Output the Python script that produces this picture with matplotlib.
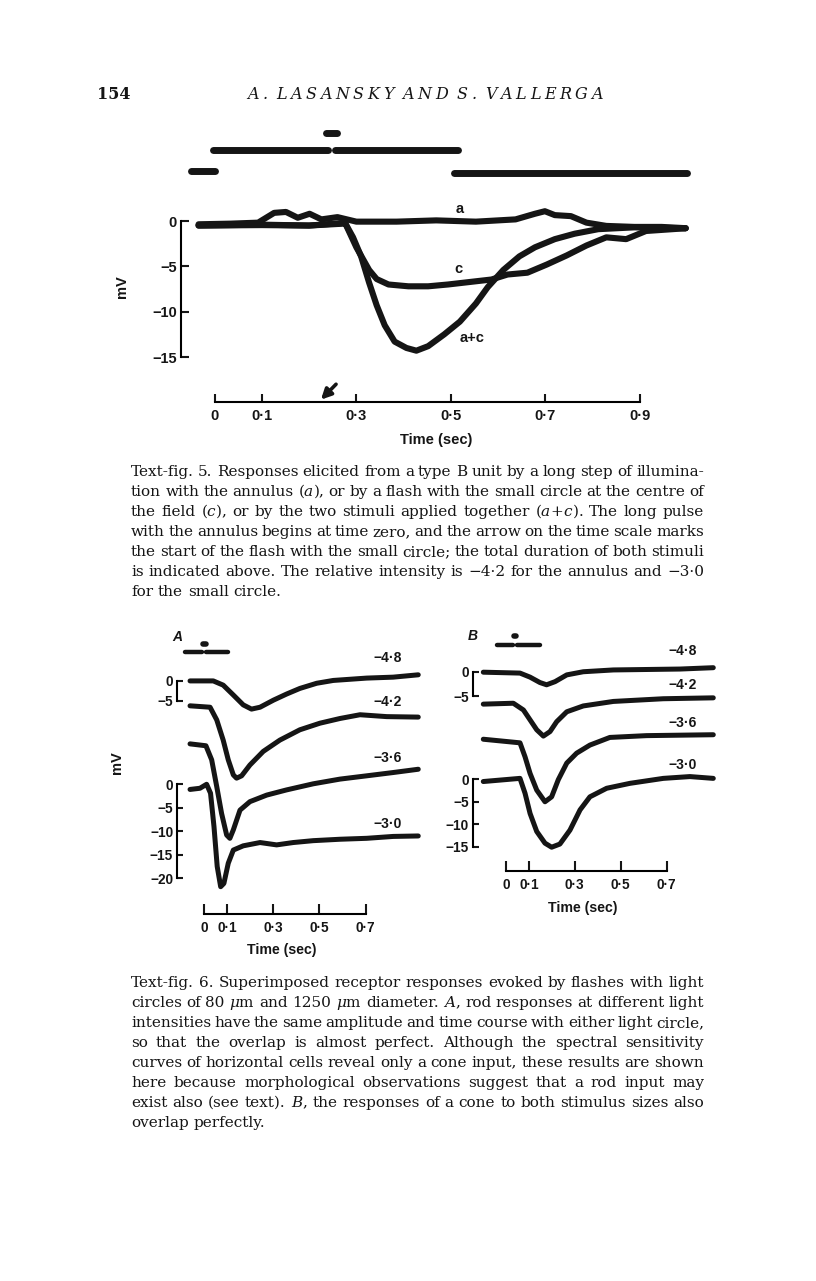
import matplotlib
matplotlib.use("Agg")
import matplotlib.pyplot as plt

W, H, DPI = 816, 1281, 100
INK = "#151515"
SANS = "Liberation Sans"
SERIF = "DejaVu Serif"
plt.rcParams["mathtext.fontset"] = "dejavuserif"

# Text-fig. 5 -- type B unit: annulus (a), small circle (c), both together (a+c)
FIG5_TIME_A = [-0.034, 0.034, 0.092, 0.126, 0.151, 0.176, 0.201, 0.226, 0.26, 0.30, 0.385,
               0.469, 0.553, 0.637, 0.678, 0.699, 0.72, 0.754, 0.787, 0.829, 0.888, 0.946, 0.997]
FIG5_MV_A = [-0.36, -0.29, -0.18, 0.9, 1.0, 0.36, 0.8, 0.18, 0.43, -0.07, -0.07,
             0.07, -0.07, 0.18, 0.8, 1.08, 0.65, 0.54, -0.18, -0.54, -0.65, -0.65, -0.79]
FIG5_TIME_C = [-0.034, 0.1, 0.2, 0.27, 0.276, 0.30, 0.327, 0.343, 0.368, 0.41, 0.452, 0.494,
               0.544, 0.586, 0.62, 0.662, 0.703, 0.745, 0.787, 0.829, 0.871, 0.913, 0.997]
FIG5_MV_C = [-0.5, -0.4, -0.5, -0.3, -0.2, -2.9, -5.4, -6.4, -7.0, -7.2, -7.2, -7.0,
             -6.7, -6.45, -5.9, -5.7, -4.8, -3.8, -2.7, -1.8, -2.0, -1.1, -0.8]
FIG5_TIME_AC = [-0.034, 0.1, 0.2, 0.276, 0.293, 0.31, 0.327, 0.343, 0.36, 0.381, 0.406, 0.427,
                0.452, 0.486, 0.519, 0.553, 0.578, 0.611, 0.645, 0.678, 0.72, 0.762, 0.812, 0.888, 0.997]
FIG5_MV_AC = [-0.5, -0.45, -0.5, -0.2, -1.8, -3.9, -6.8, -9.3, -11.5, -13.3, -14.0, -14.3,
              -13.8, -12.5, -11.1, -9.1, -7.3, -5.4, -3.9, -2.9, -2.0, -1.4, -0.9, -0.7, -0.8]
FIG5_STIM_START = [-0.049, -0.004, 0.255, 0.507]
FIG5_STIM_END = [0.0, 0.239, 0.515, 1.0]
FIG5_STIM_LEVEL = [5.55, 7.83, 7.83, 5.26]
FIG5_FLASH_MARK = [0.236, 0.258]
FIG5_FLASH_LEVEL = 9.74
FIG5_FLASH_START = 0.225
FIG5_TIME_TICKS = [0, 0.1, 0.3, 0.5, 0.7, 0.9]
FIG5_TIME_LABELS = ["0", "0·1", "0·3", "0·5", "0·7", "0·9"]
FIG5_MV_TICKS = [0, -5, -10, -15]
FIG5_MV_LABELS = ["0", "−5", "−10", "−15"]

# Text-fig. 6 -- four relative intensities per panel, traces offset vertically (mV)
INTENSITIES = ["−4·8", "−4·2", "−3·6", "−3·0"]
ROD_TIME = [
    [-0.062, 0.039, 0.082, 0.126, 0.169, 0.205, 0.242, 0.30, 0.357, 0.415, 0.488, 0.56, 0.705, 0.82, 0.929],
    [-0.062, 0.025, 0.054, 0.082, 0.104, 0.126, 0.14, 0.162, 0.198, 0.256, 0.328, 0.415, 0.502, 0.589,
     0.676, 0.792, 0.929],
    [-0.062, 0.007, 0.032, 0.054, 0.075, 0.097, 0.111, 0.126, 0.155, 0.198, 0.271, 0.357, 0.473, 0.589,
     0.705, 0.82, 0.929],
    [-0.062, -0.019, 0.010, 0.027, 0.042, 0.056, 0.071, 0.085, 0.104, 0.126, 0.169, 0.242, 0.314, 0.386,
     0.473, 0.589, 0.705, 0.82, 0.929],
]
ROD_MV = [
    [22.0, 22.0, 21.1, 19.0, 16.9, 16.0, 16.4, 17.9, 19.2, 20.4, 21.5, 22.1, 22.6, 22.8, 23.3],
    [16.7, 16.4, 13.7, 9.4, 5.2, 2.0, 1.3, 1.8, 4.1, 7.0, 9.4, 11.6, 13.0, 14.0, 14.8, 14.4, 14.3],
    [8.6, 8.2, 5.2, -0.5, -6.2, -10.8, -11.5, -9.7, -5.5, -3.7, -2.3, -1.2, 0.1, 1.1, 1.8, 2.5, 3.2],
    [-1.1, -0.85, 0.0, -1.9, -9.0, -17.5, -21.8, -21.1, -16.8, -14.0, -13.1, -12.4, -12.9, -12.4,
     -12.0, -11.7, -11.5, -11.1, -11.0],
]
CONE_TIME = [
    [-0.099, 0.061, 0.105, 0.148, 0.177, 0.214, 0.265, 0.337, 0.468, 0.613, 0.759, 0.904],
    [-0.099, 0.032, 0.076, 0.105, 0.134, 0.163, 0.192, 0.221, 0.265, 0.337, 0.468, 0.686, 0.904],
    [-0.099, 0.061, 0.083, 0.105, 0.134, 0.17, 0.199, 0.228, 0.265, 0.308, 0.366, 0.453, 0.613, 0.904],
    [-0.099, 0.061, 0.083, 0.105, 0.134, 0.17, 0.199, 0.235, 0.279, 0.323, 0.366, 0.439, 0.541,
     0.686, 0.802, 0.904],
]
CONE_MV = [
    [23.8, 23.6, 22.7, 21.5, 21.0, 21.7, 23.2, 23.9, 24.3, 24.4, 24.5, 24.8],
    [16.7, 16.9, 15.4, 13.2, 11.0, 9.6, 10.6, 12.8, 15.0, 16.3, 17.3, 17.9, 18.1],
    [8.9, 8.1, 5.0, 1.3, -2.4, -5.0, -3.9, -0.1, 3.6, 5.8, 7.6, 9.3, 9.7, 9.9],
    [-0.5, 0.2, -3.1, -7.6, -11.6, -14.2, -15.1, -14.4, -11.3, -6.8, -3.9, -2.0, -0.9, 0.2, 0.6, 0.2],
]
ROD_LABEL_MV = [26.8, 17.6, 5.5, -8.4]
CONE_LABEL_MV = [28.4, 21.0, 12.4, 3.2]
ROD_STIM = [(-0.084, -0.012), (0.007, 0.104)]
ROD_FLASH = (-0.006, 0.006)
CONE_STIM = [(-0.041, 0.032), (0.049, 0.148)]
CONE_FLASH = (0.033, 0.045)
FIG6_TIME_TICKS = [0, 0.1, 0.3, 0.5, 0.7]
FIG6_TIME_LABELS = ["0", "0·1", "0·3", "0·5", "0·7"]

HEADER_PAGE = "154"
HEADER_AUTHORS = "A. LASANSKY AND S. VALLERGA"
CAPTION_5 = [
    "Text-fig. 5. Responses elicited from a type B unit by a long step of illumina-",
    "tion with the annulus ($\\mathit{a}$), or by a flash with the small circle at the centre of",
    "the field ($\\mathit{c}$), or by the two stimuli applied together ($\\mathit{a\\!+\\!c}$). The long pulse",
    "with the annulus begins at time zero, and the arrow on the time scale marks",
    "the start of the flash with the small circle; the total duration of both stimuli",
    "is indicated above. The relative intensity is −4·2 for the annulus and −3·0",
    "for the small circle.",
]
CAPTION_6 = [
    "Text-fig. 6. Superimposed receptor responses evoked by flashes with light",
    "circles of 80 $\\mu$m and 1250 $\\mu$m diameter. $\\mathit{A}$, rod responses at different light",
    "intensities have the same amplitude and time course with either light circle,",
    "so that the overlap is almost perfect. Although the spectral sensitivity",
    "curves of horizontal cells reveal only a cone input, these results are shown",
    "here because morphological observations suggest that a rod input may",
    "exist also (see text). $\\mathit{B}$, the responses of a cone to both stimulus sizes also",
    "overlap perfectly.",
]


def page_axes(fig, left, top, right, bottom):
    return fig.add_axes([left / W, 1 - bottom / H, (right - left) / W, (bottom - top) / H])


def fig_text(fig, x, y, s, **kw):
    return fig.text(x / W, 1 - y / H, s, **kw)


def bracket(ax, spine_t, lo, hi, ticks, labels, size, length):
    for side in ("top", "right", "bottom"):
        ax.spines[side].set_visible(False)
    ax.spines["left"].set_position(("data", spine_t))
    ax.spines["left"].set_bounds(lo, hi)
    ax.spines["left"].set_linewidth(1.5)
    ax.set_yticks(ticks)
    ax.set_yticklabels(labels, fontsize=size, fontweight="bold", family=SANS)
    ax.tick_params(axis="y", direction="in", length=length, width=1.5, pad=3, colors=INK)


def time_bar(ax, level, ticks, labels, size, length):
    ax.spines["bottom"].set_visible(True)
    ax.spines["bottom"].set_position(("data", level))
    ax.spines["bottom"].set_bounds(ticks[0], ticks[-1])
    ax.spines["bottom"].set_linewidth(1.5)
    ax.set_xticks(ticks)
    ax.set_xticklabels(labels, fontsize=size, fontweight="bold", family=SANS)
    ax.tick_params(axis="x", direction="in", length=length, width=1.5, pad=5, colors=INK)


def upper_bracket(fig, ax, spine_t, lo, hi, labels, size, length):
    over = fig.add_axes(ax.get_position())
    over.set_xlim(ax.get_xlim())
    over.set_ylim(ax.get_ylim())
    over.patch.set_visible(False)
    over.set_xticks([])
    bracket(over, spine_t, lo, hi, [hi, lo], labels, size, length)


def justify(fig, renderer, lines, left, right, baseline, step, size):
    space = 0.32 * size * DPI / 72
    for row, line in enumerate(lines):
        y = baseline + row * step
        words = [fig_text(fig, 0, y, w, fontsize=size, family=SERIF, va="baseline", color=INK)
                 for w in line.split(" ")]
        widths = [t.get_window_extent(renderer).width for t in words]
        if row == len(lines) - 1:
            gap = space
        else:
            gap = (right - left - sum(widths)) / (len(words) - 1)
        x = left
        for t, w in zip(words, widths):
            t.set_x(x / W)
            x += w + gap


def spread_caps(fig, renderer, text, left, right, baseline, size, **kw):
    words = text.split(" ")
    chars = [[fig_text(fig, 0, baseline, c, fontsize=size, va="baseline", **kw) for c in w] for w in words]
    widths = [[c.get_window_extent(renderer).width for c in w] for w in chars]
    space = 0.32 * size * DPI / 72
    n_gaps = sum(len(w) for w in chars) - 1
    total = sum(sum(w) for w in widths) + space * (len(words) - 1)
    gap = (right - left - total) / n_gaps
    x = left
    for w_chars, w_widths in zip(chars, widths):
        for c, cw in zip(w_chars, w_widths):
            c.set_x(x / W)
            x += cw + gap
        x += space


fig = plt.figure(figsize=(W / DPI, H / DPI), dpi=DPI, facecolor="white")
renderer = fig.canvas.get_renderer()
trace_kw = dict(color=INK, solid_capstyle="round", solid_joinstyle="round")

# ---------------- Text-fig. 5 ----------------
ax5 = page_axes(fig, 160, 120, 700, 440)
ax5.set_xlim(-0.1156, 1.0273)
ax5.set_ylim(-24.15, 11.14)
ax5.patch.set_visible(False)
for t_vals, mv_vals in ((FIG5_TIME_A, FIG5_MV_A), (FIG5_TIME_C, FIG5_MV_C), (FIG5_TIME_AC, FIG5_MV_AC)):
    ax5.plot(t_vals, mv_vals, lw=4.4, **trace_kw)
ax5.hlines(FIG5_STIM_LEVEL, FIG5_STIM_START, FIG5_STIM_END, lw=5.0, color=INK, capstyle="round")
ax5.hlines(FIG5_FLASH_LEVEL, *FIG5_FLASH_MARK, lw=5.0, color=INK, capstyle="round")
bracket(ax5, -0.071, -15, 0, FIG5_MV_TICKS, FIG5_MV_LABELS, 10.5, 6)
time_bar(ax5, -20.0, FIG5_TIME_TICKS, FIG5_TIME_LABELS, 10.5, 6)
ax5.annotate("", xy=(FIG5_FLASH_START, -19.7), xytext=(FIG5_FLASH_START + 0.032, -18.0),
             arrowprops=dict(arrowstyle="-|>", lw=2.6, color=INK, mutation_scale=15, shrinkA=0, shrinkB=0))
label_kw = dict(fontsize=10.5, fontweight="bold", family=SANS, color=INK, ha="center", va="center")
ax5.text(0.519, 1.35, "a", **label_kw)
ax5.text(0.515, -5.3, "c", **label_kw)
ax5.text(0.545, -12.9, "a+c", **label_kw)
fig_text(fig, 122, 287, "mV", rotation=90, ha="center", va="center", fontsize=10.5,
         fontweight="bold", family=SANS, color=INK)
fig_text(fig, 436, 440, "Time (sec)", ha="center", va="center", fontsize=10.5,
         fontweight="bold", family=SANS, color=INK)

# ---------------- Text-fig. 6 A (rods) ----------------
ax_a = page_axes(fig, 160, 625, 430, 960)
ax_a.set_xlim(-0.1924, 0.98)
ax_a.set_ylim(-37.4, 33.9)
ax_a.patch.set_visible(False)
for t_vals, mv_vals in zip(ROD_TIME, ROD_MV):
    ax_a.plot(t_vals, mv_vals, lw=3.6, **trace_kw)
ax_a.hlines([28.1] * len(ROD_STIM), [s for s, _ in ROD_STIM], [e for _, e in ROD_STIM],
            lw=3.2, color=INK, capstyle="round")
ax_a.hlines(29.9, *ROD_FLASH, lw=4.0, color=INK, capstyle="round")
for name, level in zip(INTENSITIES, ROD_LABEL_MV):
    ax_a.text(0.735, level, name, fontsize=10, fontweight="bold", family=SANS, color=INK,
              ha="left", va="center")
bracket(ax_a, -0.117, -20, 0, [0, -5, -10, -15, -20], ["0", "−5", "−10", "−15", "−20"], 9.8, 4)
time_bar(ax_a, -27.7, FIG6_TIME_TICKS, FIG6_TIME_LABELS, 9.8, 7)
upper_bracket(fig, ax_a, -0.117, 17.8, 22.0, ["0", "−5"], 9.8, 4)
fig_text(fig, 177, 637, "A", ha="center", va="center", fontsize=10, fontweight="bold",
         style="italic", family=SANS, color=INK)
fig_text(fig, 117, 763, "mV", rotation=90, ha="center", va="center", fontsize=10.5,
         fontweight="bold", family=SANS, color=INK)
fig_text(fig, 282, 950, "Time (sec)", ha="center", va="center", fontsize=10.2,
         fontweight="bold", family=SANS, color=INK)

# ---------------- Text-fig. 6 B (cones) ----------------
ax_b = page_axes(fig, 455, 620, 735, 930)
ax_b.set_xlim(-0.2224, 0.9987)
ax_b.set_ylim(-33.5, 35.4)
ax_b.patch.set_visible(False)
for t_vals, mv_vals in zip(CONE_TIME, CONE_MV):
    ax_b.plot(t_vals, mv_vals, lw=3.6, **trace_kw)
ax_b.hlines([29.85] * len(CONE_STIM), [s for s, _ in CONE_STIM], [e for _, e in CONE_STIM],
            lw=3.2, color=INK, capstyle="round")
ax_b.hlines(31.9, *CONE_FLASH, lw=4.0, color=INK, capstyle="round")
for name, level in zip(INTENSITIES, CONE_LABEL_MV):
    ax_b.text(0.708, level, name, fontsize=10, fontweight="bold", family=SANS, color=INK,
              ha="left", va="center")
bracket(ax_b, -0.145, -15, 0, [0, -5, -10, -15], ["0", "−5", "−10", "−15"], 9.8, 4)
time_bar(ax_b, -20.3, FIG6_TIME_TICKS, FIG6_TIME_LABELS, 9.8, 7)
upper_bracket(fig, ax_b, -0.145, 18.4, 23.9, ["0", "−5"], 9.8, 4)
fig_text(fig, 473, 636, "B", ha="center", va="center", fontsize=10, fontweight="bold",
         style="italic", family=SANS, color=INK)
fig_text(fig, 583, 908, "Time (sec)", ha="center", va="center", fontsize=10.2,
         fontweight="bold", family=SANS, color=INK)

# ---------------- page text ----------------
fig_text(fig, 97, 99, HEADER_PAGE, fontsize=11.5, fontweight="bold", family=SERIF, va="baseline", color=INK)
spread_caps(fig, renderer, HEADER_AUTHORS, 247, 603, 99, 11.5, family=SERIF, style="italic", color=INK)
justify(fig, renderer, CAPTION_5, 131, 704, 476, 20.0, 11.0)
justify(fig, renderer, CAPTION_6, 131, 704, 987, 20.0, 11.0)

fig.savefig("out.png", dpi=DPI, facecolor="white")
